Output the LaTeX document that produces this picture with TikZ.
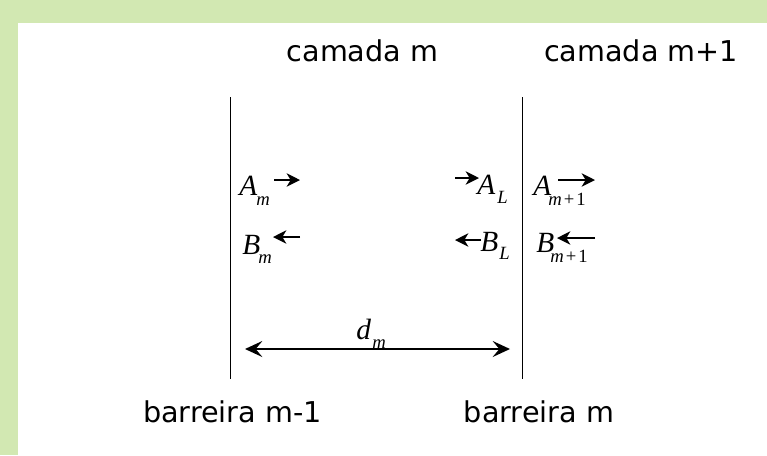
\documentclass[tikz,border=0pt]{standalone}
\usepackage{fontspec}
\setmainfont{DejaVu Sans}
\newfontfamily\tms{Liberation Serif}
\usetikzlibrary{arrows.meta}
\definecolor{bggreen}{RGB}{210,232,178}
\begin{document}
\begin{tikzpicture}[x=0.75pt,y=-0.75pt,
  lbl/.style={font=\fontsize{21.5}{25}\selectfont, anchor=base, inner sep=0pt},
  mv/.style={font=\tms\itshape\fontsize{22}{26}\selectfont, anchor=base west, inner sep=0pt},
  msub/.style={font=\tms\itshape\fontsize{14}{16}\selectfont, anchor=base west, inner sep=0pt},
  wall/.style={line width=1.3pt},
  sarr/.style={line width=1.4pt, -{Stealth[length=10pt,width=10pt,inset=3pt]}},
  darr/.style={line width=1.3pt, {Stealth[length=13pt,width=12pt,inset=5pt]}-{Stealth[length=13pt,width=12pt,inset=5pt]}}]
\useasboundingbox (0,0) rectangle (767,455);
\fill[bggreen] (0,0) rectangle (767,455);
\fill[white] (18,23) rectangle (767,455);
% headings
\node[lbl] (cm) at (362.5,61) {camada m};
\node[lbl] (cm1) at (641,61) {camada m+1};
\node[lbl] (bm1) at (232.5,422) {barreira m-1};
\node[lbl] (bm) at (539,422) {barreira m};
% walls
\coordinate (w1t) at (230.5,97);
\coordinate (w1b) at (230.5,379);
\coordinate (w2t) at (522.5,97);
\coordinate (w2b) at (522.5,379);
\draw[wall] (w1t) -- (w1b);
\draw[wall] (w2t) -- (w2b);
% labels
\node[mv] (Am) at (239,195) {A};
\node[msub] (Ams) at (256,205) {m};
\node[mv] (Bm) at (242,254) {B};
\node[msub] (Bms) at (258,263) {m};
\node[mv] (AL) at (477,194) {A};
\node[msub] (ALs) at (497,203) {L};
\node[mv] (BL) at (480,251) {B};
\node[msub] (BLs) at (499,259) {L};
\node[mv] (Am1) at (533,195) {A};
\node[msub] (Am1s) at (548,205) {m\kern1.5pt{\upshape+}\kern1.5pt{\upshape 1}};
\node[mv] (Bm1) at (536,252) {B};
\node[msub] (Bm1s) at (550,262) {m\kern1.5pt{\upshape+}\kern1.5pt{\upshape 1}};
\node[mv] (d) at (356,339) {d};
\node[msub] (ds) at (372,348) {m};
% small arrows
\coordinate (a1s) at (274,180); \coordinate (a1e) at (300,180);
\coordinate (b1s) at (300,237); \coordinate (b1e) at (273,237);
\coordinate (aLs) at (455,178); \coordinate (aLe) at (479,178);
\coordinate (bLs) at (481,240); \coordinate (bLe) at (455,240);
\coordinate (a2s) at (558,180); \coordinate (a2e) at (595,180);
\coordinate (b2s) at (595,238); \coordinate (b2e) at (557,238);
\draw[sarr] (a1s) -- (a1e);
\draw[sarr] (b1s) -- (b1e);
\draw[sarr] (aLs) -- (aLe);
\draw[sarr] (bLs) -- (bLe);
\draw[sarr] (a2s) -- (a2e);
\draw[sarr] (b2s) -- (b2e);
% dimension
\coordinate (dl) at (245,349);
\coordinate (dr) at (510,349);
\draw[darr] (dl) -- (dr);
\end{tikzpicture}
\end{document}
